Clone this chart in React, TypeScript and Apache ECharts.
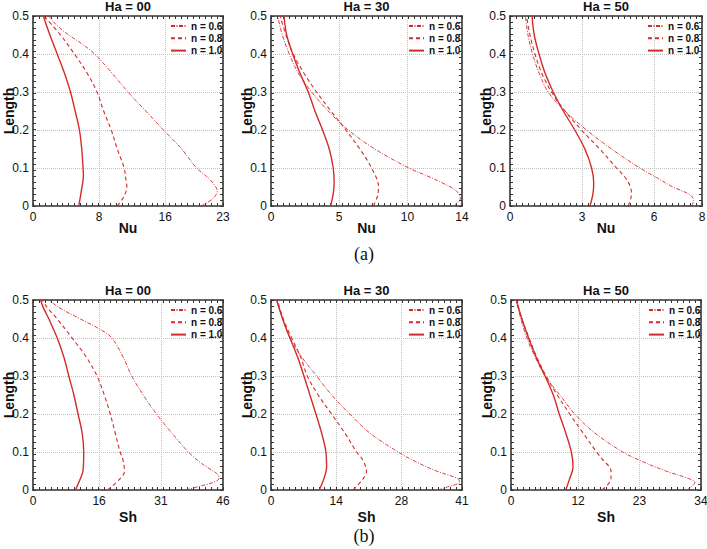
import { useEffect, useRef } from "react";
import * as echarts from "echarts";

const FONT = "'Liberation Sans', Arial, Helvetica, sans-serif";
const RED = "#d42a2a";
const FRAME = "#333333";

const seriesNames = ["n = 0.6", "n = 0.8", "n = 1.0"];
const yTicks = [0, 0.1, 0.2, 0.3, 0.4, 0.5];
const yGrid = [0.1, 0.2, 0.3, 0.4];
const titles = ["Ha = 00", "Ha = 30", "Ha = 50", "Ha = 00", "Ha = 30", "Ha = 50"];
const xNames = ["Nu", "Nu", "Nu", "Sh", "Sh", "Sh"];
const xMax = [23, 14, 8, 46, 41, 34];
const xTicks = [
  [0, 8, 16, 23],
  [0, 5, 10, 14],
  [0, 3, 6, 8],
  [0, 16, 31, 46],
  [0, 14, 28, 41],
  [0, 12, 23, 34],
];

// [x, Length]
const nu00_n06 = [[20.35,0],[21.8,0.02],[22.3,0.04],[21.8,0.06],[20.9,0.08],[19.8,0.1],[18.0,0.15],[15.8,0.2],[13.65,0.25],[11.5,0.3],[9.55,0.35],[7.46,0.4],[5.9,0.427],[4.33,0.45],[3.1,0.471],[2.3,0.489],[1.93,0.5]];
const nu00_n08 = [[10.2,0],[11.0,0.025],[11.36,0.05],[11.2,0.075],[11.04,0.1],[10.2,0.15],[9.47,0.2],[8.55,0.25],[7.75,0.3],[6.54,0.35],[5.02,0.4],[3.33,0.45],[1.32,0.5]];
const nu00_n10 = [[5.54,0],[5.85,0.04],[6.1,0.08],[6.06,0.1],[5.9,0.15],[5.62,0.2],[5.1,0.25],[4.54,0.3],[3.8,0.35],[2.93,0.4],[2.05,0.45],[1.24,0.5]];

const nu30_n06 = [[13.39,0],[13.88,0.02],[13.58,0.04],[12.6,0.06],[11.4,0.08],[10.1,0.1],[7.61,0.15],[5.66,0.2],[4.2,0.25],[2.98,0.3],[2.0,0.35],[1.34,0.4],[0.83,0.45],[0.49,0.5]];
const nu30_n08 = [[7.49,0],[7.8,0.025],[7.88,0.05],[7.37,0.1],[6.51,0.15],[5.49,0.2],[4.39,0.25],[3.34,0.3],[2.41,0.35],[1.63,0.4],[1.1,0.45],[0.66,0.5]];
const nu30_n10 = [[4.37,0],[4.55,0.03],[4.63,0.06],[4.56,0.1],[4.27,0.15],[3.78,0.2],[3.22,0.25],[2.73,0.3],[2.12,0.35],[1.59,0.4],[1.15,0.45],[0.95,0.5]];

const nu50_n06 = [[7.56,0],[7.65,0.015],[7.49,0.03],[6.79,0.05],[6.1,0.075],[5.41,0.1],[4.23,0.15],[3.19,0.2],[2.29,0.25],[1.59,0.3],[1.21,0.35],[0.94,0.4],[0.75,0.45],[0.64,0.5]];
const nu50_n08 = [[4.92,0],[5.06,0.03],[5.02,0.05],[4.8,0.075],[4.44,0.1],[3.74,0.15],[2.98,0.2],[2.29,0.25],[1.73,0.3],[1.32,0.35],[1.04,0.4],[0.83,0.45],[0.69,0.5]];
const nu50_n10 = [[3.33,0],[3.45,0.03],[3.49,0.06],[3.4,0.1],[3.12,0.15],[2.7,0.2],[2.22,0.25],[1.8,0.3],[1.46,0.35],[1.21,0.4],[1.01,0.45],[0.92,0.5]];

const sh00_n06 = [[37.0,0],[40.4,0.01],[43.6,0.02],[45.0,0.03],[44.8,0.04],[43.6,0.05],[40.8,0.07],[37.6,0.1],[33.6,0.15],[29.9,0.2],[26.7,0.25],[23.9,0.3],[21.8,0.35],[19.1,0.4],[16.7,0.42],[11.5,0.45],[6.3,0.48],[3.85,0.5]];
const sh00_n08 = [[18.06,0],[21.1,0.03],[22.16,0.05],[21.76,0.08],[21.1,0.1],[19.9,0.15],[18.7,0.2],[17.26,0.25],[15.5,0.3],[12.9,0.35],[9.47,0.4],[5.86,0.45],[3.45,0.48],[2.25,0.5]];
const sh00_n10 = [[10.28,0],[11.48,0.03],[12.1,0.05],[12.28,0.1],[11.9,0.15],[10.9,0.2],[9.9,0.25],[8.67,0.3],[7.47,0.35],[5.86,0.4],[3.85,0.45],[2.49,0.48],[1.85,0.5]];

const sh30_n06 = [[35.86,0],[38.36,0.01],[40.5,0.02],[40.1,0.03],[35.5,0.05],[31.0,0.075],[27.3,0.1],[21.2,0.15],[16.9,0.2],[13.0,0.25],[9.79,0.3],[6.57,0.35],[4.07,0.4],[2.5,0.45],[1.21,0.5]];
const sh30_n08 = [[17.64,0],[19.8,0.03],[20.5,0.05],[19.64,0.08],[18.36,0.1],[15.86,0.15],[13.0,0.2],[10.14,0.25],[7.79,0.3],[6.36,0.35],[4.43,0.4],[2.64,0.45],[1.36,0.5]];
const sh30_n10 = [[10.36,0],[11.36,0.03],[11.93,0.06],[11.79,0.1],[10.86,0.15],[9.64,0.2],[8.36,0.25],[7.07,0.3],[5.71,0.35],[4.07,0.4],[2.5,0.45],[1.21,0.5]];

const sh50_n06 = [[31.5,0],[32.4,0.01],[32.9,0.02],[31.8,0.03],[27.7,0.05],[23.5,0.075],[20.0,0.1],[15.0,0.15],[11.4,0.2],[8.75,0.25],[6.09,0.3],[4.32,0.35],[2.84,0.4],[1.77,0.45],[0.95,0.5]];
const sh50_n08 = [[16.3,0],[17.9,0.03],[17.9,0.05],[16.4,0.08],[15.3,0.1],[12.9,0.15],[10.5,0.2],[8.28,0.25],[6.27,0.3],[4.61,0.35],[3.25,0.4],[1.95,0.45],[0.95,0.5]];
const sh50_n10 = [[9.8,0],[10.5,0.03],[11.1,0.06],[10.8,0.1],[9.8,0.15],[8.63,0.2],[7.57,0.25],[6.09,0.3],[4.49,0.35],[3.13,0.4],[1.95,0.45],[0.95,0.5]];

const panelData = [
  [nu00_n06, nu00_n08, nu00_n10],
  [nu30_n06, nu30_n08, nu30_n10],
  [nu50_n06, nu50_n08, nu50_n10],
  [sh00_n06, sh00_n08, sh00_n10],
  [sh30_n06, sh30_n08, sh30_n10],
  [sh50_n06, sh50_n08, sh50_n10],
];

const gridLefts = [33, 271, 510, 33, 271, 511];
const gridWidths = [190, 191, 192, 190, 191, 190];
const gridTops = [16, 16, 16, 300, 300, 300];
const GRID_H = 190;

const lineStyles = [
  { width: 0.9, type: [4, 1.5, 1, 1.5] as any },
  { width: 1.1, type: [4, 3] as any },
  { width: 1.4, type: "solid" as any },
];

function minorTicks(max: number, n: number) {
  const out: number[] = [];
  for (let i = 0; i <= n; i++) out.push((max * i) / n);
  return out;
}

function buildOption() {
  const grid: any[] = [];
  const xAxis: any[] = [];
  const yAxis: any[] = [];
  const series: any[] = [];
  const legend: any[] = [];
  const graphic: any[] = [];

  for (let i = 0; i < 6; i++) {
    const left = gridLefts[i];
    const top = gridTops[i];
    const width = gridWidths[i];
    const max = xMax[i];
    const bottomRow = i >= 3;
    grid.push({ left, top, width, height: GRID_H, containLabel: false, outerBoundsMode: "none" });

    const frameLine = { show: true, onZero: false, lineStyle: { color: FRAME, width: 1.6 } };
    const tickStyle = { color: FRAME, width: 1 };

    xAxis.push({
      gridIndex: i, type: "value", position: "bottom", min: 0, max,
      axisLine: frameLine,
      axisTick: { show: true, inside: true, length: 3, customValues: minorTicks(max, 32), lineStyle: tickStyle },
      axisLabel: { customValues: xTicks[i], fontSize: 12, color: "#111", margin: 5, fontFamily: FONT },
      splitLine: { show: false },
      name: xNames[i], nameLocation: "middle", nameGap: bottomRow ? 20 : 15, nameMoveOverlap: false,
      nameTextStyle: { fontSize: 14, fontWeight: "bold", color: "#111", fontFamily: FONT },
    });
    xAxis.push({
      gridIndex: i, type: "value", position: "top", min: 0, max,
      axisLine: frameLine,
      axisTick: { show: true, inside: true, length: 3, customValues: minorTicks(max, 32), lineStyle: tickStyle },
      axisLabel: { show: false },
      splitLine: { show: false },
    });
    xAxis.push({
      gridIndex: i, type: "value", position: "bottom", min: 0, max,
      axisLine: { show: false },
      axisTick: { show: false, customValues: xTicks[i].slice(1, 3) },
      axisLabel: { show: false, customValues: xTicks[i].slice(1, 3) },
      splitLine: { show: true, lineStyle: { type: "dotted", color: "#bfbfbf", width: 1 } },
    });

    yAxis.push({
      gridIndex: i, type: "value", position: "left", min: 0, max: 0.5,
      axisLine: frameLine,
      axisTick: { show: true, inside: true, length: 3, customValues: minorTicks(0.5, 32), lineStyle: tickStyle },
      axisLabel: { customValues: yTicks, fontSize: 12, color: "#111", margin: 4, fontFamily: FONT },
      splitLine: { show: false },
      name: "Length", nameLocation: "middle", nameGap: 17, nameMoveOverlap: false,
      nameTextStyle: { fontSize: 14, fontWeight: "bold", color: "#111", fontFamily: FONT },
    });
    yAxis.push({
      gridIndex: i, type: "value", position: "right", min: 0, max: 0.5,
      axisLine: frameLine,
      axisTick: { show: true, inside: true, length: 3, customValues: minorTicks(0.5, 32), lineStyle: tickStyle },
      axisLabel: { show: false },
      splitLine: { show: false },
    });
    yAxis.push({
      gridIndex: i, type: "value", position: "left", min: 0, max: 0.5,
      axisLine: { show: false },
      axisTick: { show: false, customValues: yGrid },
      axisLabel: { show: false, customValues: yGrid },
      splitLine: { show: true, lineStyle: { type: "dotted", color: "#bfbfbf", width: 1 } },
    });

    panelData[i].forEach((data, k) => {
      series.push({
        type: "line", name: seriesNames[k],
        xAxisIndex: i * 3, yAxisIndex: i * 3,
        data, symbol: "none", showSymbol: false, smooth: 0.35, silent: true,
        lineStyle: { color: RED, ...lineStyles[k] },
        itemStyle: { color: RED },
        z: 3,
      });
    });

    legend.push({
      data: seriesNames, orient: "vertical", left: left + 137, top: top + 5, padding: 0,
      itemWidth: 15, itemHeight: 10, itemGap: 2.3, itemTextGap: 2, selectedMode: false,
      itemStyle: { color: "rgba(0,0,0,0)", borderWidth: 0, opacity: 0 },
      textStyle: { fontSize: 10, fontWeight: "bold", color: "#111", lineHeight: 10, fontFamily: FONT },
    });

    graphic.push({
      type: "text", x: left + width / 2, y: bottomRow ? 290 : 6,
      style: { text: titles[i], align: "center", verticalAlign: "middle", fontSize: 13, fontWeight: "bold", fontFamily: FONT, fill: "#111" },
    });
  }

  graphic.push({
    type: "text", x: 364, y: 254,
    style: { text: "(a)", align: "center", verticalAlign: "middle", fontSize: 18, fontFamily: "'Liberation Serif', 'DejaVu Serif', serif", fill: "#111" },
  });
  graphic.push({
    type: "text", x: 364, y: 536,
    style: { text: "(b)", align: "center", verticalAlign: "middle", fontSize: 18, fontFamily: "'Liberation Serif', 'DejaVu Serif', serif", fill: "#111" },
  });

  return {
    animation: false,
    backgroundColor: "#ffffff",
    grid, xAxis, yAxis, series, legend, graphic,
  };
}

export default function App() {
  const ref = useRef<HTMLDivElement>(null);
  useEffect(() => {
    const chart = echarts.init(ref.current!, null, { renderer: "svg" });
    chart.setOption(buildOption() as any);
    return () => chart.dispose();
  }, []);
  return (
    <div
      ref={ref}
      style={{ position: "absolute", left: 0, top: 0, width: 707, height: 549 }}
    />
  );
}
